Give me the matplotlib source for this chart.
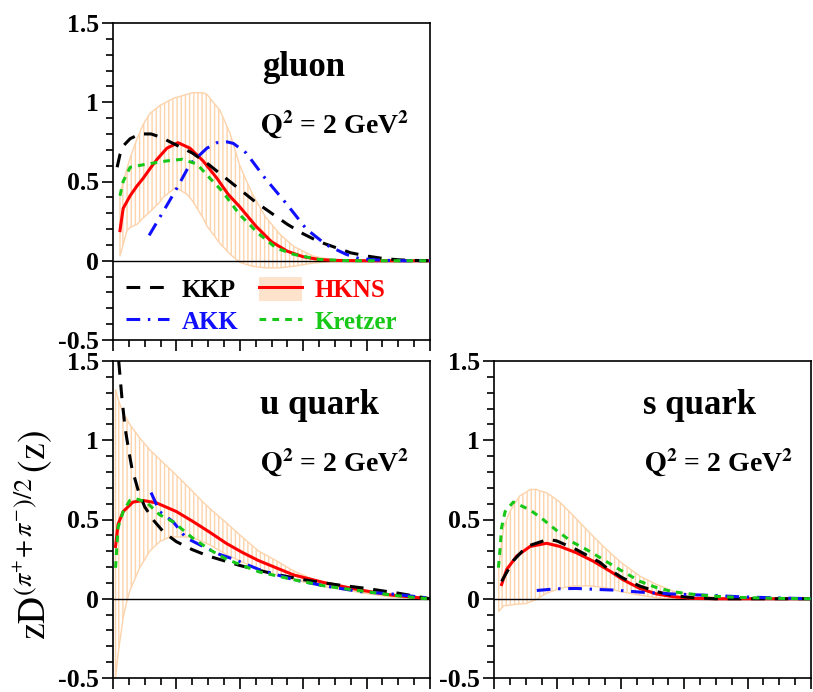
import matplotlib
matplotlib.use("Agg")
import matplotlib.pyplot as plt
from matplotlib.lines import Line2D
from matplotlib.patches import Patch
from matplotlib.ticker import MultipleLocator, NullFormatter, FuncFormatter

plt.rcParams['font.family'] = ['Liberation Serif', 'DejaVu Serif']
plt.rcParams['mathtext.fontset'] = 'stix'
plt.rcParams['hatch.linewidth'] = 1.0

# ---------------- gluon ----------------
g_kkp_z = [0.013, 0.022, 0.035, 0.054, 0.085, 0.12, 0.15, 0.18, 0.21, 0.25, 0.30, 0.35, 0.40, 0.45, 0.50, 0.55, 0.60, 0.65, 0.70, 0.75, 0.80, 0.85, 0.90, 0.95, 1.0]
g_kkp_v = [0.59, 0.67, 0.73, 0.77, 0.80, 0.80, 0.78, 0.75, 0.72, 0.68, 0.61, 0.53, 0.45, 0.37, 0.30, 0.23, 0.17, 0.12, 0.085, 0.05, 0.03, 0.015, 0.006, 0.002, 0.0]

g_hkns_z = [0.022, 0.032, 0.054, 0.075, 0.095, 0.12, 0.139, 0.17, 0.205, 0.243, 0.284, 0.328, 0.363, 0.40, 0.45, 0.50, 0.55, 0.60, 0.65, 0.70, 0.80, 0.90, 1.0]
g_hkns_v = [0.19, 0.33, 0.41, 0.47, 0.52, 0.59, 0.64, 0.71, 0.745, 0.71, 0.63, 0.52, 0.42, 0.34, 0.22, 0.12, 0.06, 0.025, 0.008, 0.002, 0.0, 0.0, 0.0]

g_akk_z = [0.114, 0.17, 0.205, 0.243, 0.296, 0.328, 0.36, 0.38, 0.42, 0.48, 0.547, 0.61, 0.673, 0.736, 0.778, 0.85, 0.92, 1.0]
g_akk_v = [0.16, 0.35, 0.47, 0.61, 0.71, 0.745, 0.75, 0.74, 0.68, 0.52, 0.36, 0.20, 0.10, 0.04, 0.013, 0.003, 0.0, 0.0]

g_kre_z = [0.022, 0.032, 0.054, 0.107, 0.17, 0.218, 0.265, 0.306, 0.344, 0.40, 0.46, 0.515, 0.57, 0.65, 0.75, 0.85, 1.0]
g_kre_v = [0.41, 0.50, 0.59, 0.61, 0.63, 0.64, 0.61, 0.52, 0.44, 0.29, 0.17, 0.08, 0.04, 0.008, 0.0, 0.0, 0.0]

g_band_z = [0.022, 0.044, 0.054, 0.076, 0.095, 0.117, 0.148, 0.158, 0.196, 0.20, 0.233, 0.25, 0.284, 0.296, 0.337, 0.37, 0.40, 0.44, 0.48, 0.525, 0.57, 0.63, 0.69, 0.75, 0.85, 1.0]
g_band_hi = [0.42, 0.58, 0.65, 0.77, 0.86, 0.93, 0.98, 0.99, 1.03, 1.03, 1.05, 1.06, 1.06, 1.05, 0.95, 0.80, 0.60, 0.42, 0.28, 0.17, 0.09, 0.03, 0.006, 0.0, 0.0, 0.0]
g_band_lo = [0.03, 0.19, 0.21, 0.23, 0.27, 0.31, 0.37, 0.40, 0.46, 0.46, 0.42, 0.38, 0.27, 0.22, 0.11, 0.04, -0.01, -0.035, -0.045, -0.045, -0.035, -0.015, -0.005, 0.0, 0.0, 0.0]

# ---------------- u quark ----------------
u_kkp_z = [0.018, 0.028, 0.038, 0.05, 0.06, 0.08, 0.10, 0.13, 0.16, 0.20, 0.25, 0.30, 0.35, 0.40, 0.50, 0.60, 0.70, 0.80, 0.90, 1.0]
u_kkp_v = [1.50, 1.27, 1.08, 0.93, 0.82, 0.68, 0.58, 0.49, 0.42, 0.36, 0.31, 0.27, 0.24, 0.21, 0.16, 0.12, 0.09, 0.065, 0.035, 0.0]

u_hkns_z = [0.008, 0.016, 0.032, 0.063, 0.095, 0.137, 0.20, 0.25, 0.305, 0.357, 0.41, 0.46, 0.515, 0.57, 0.67, 0.78, 0.88, 0.99]
u_hkns_v = [0.33, 0.47, 0.55, 0.61, 0.62, 0.605, 0.55, 0.49, 0.42, 0.35, 0.29, 0.24, 0.195, 0.15, 0.10, 0.055, 0.023, 0.002]

u_akk_z = [0.12, 0.147, 0.19, 0.23, 0.284, 0.336, 0.38, 0.46, 0.57, 0.67, 0.78, 0.88, 0.99]
u_akk_v = [0.67, 0.55, 0.485, 0.385, 0.33, 0.28, 0.25, 0.185, 0.12, 0.08, 0.045, 0.03, 0.006]

u_kre_z = [0.008, 0.016, 0.032, 0.053, 0.074, 0.105, 0.147, 0.19, 0.25, 0.305, 0.357, 0.46, 0.57, 0.67, 0.78, 0.88, 0.99]
u_kre_v = [0.195, 0.45, 0.55, 0.62, 0.63, 0.61, 0.53, 0.485, 0.385, 0.31, 0.25, 0.17, 0.12, 0.08, 0.05, 0.023, 0.0]

u_band_z = [0.008, 0.016, 0.032, 0.042, 0.053, 0.084, 0.116, 0.126, 0.147, 0.168, 0.179, 0.21, 0.23, 0.25, 0.284, 0.305, 0.357, 0.41, 0.46, 0.515, 0.57, 0.67, 0.78, 0.88, 0.99]
u_band_hi = [1.32, 1.26, 1.17, 1.14, 1.10, 1.015, 0.94, 0.92, 0.88, 0.84, 0.82, 0.76, 0.72, 0.68, 0.61, 0.57, 0.48, 0.385, 0.30, 0.24, 0.175, 0.09, 0.04, 0.01, 0.0]
u_band_lo = [-0.50, -0.35, -0.12, -0.03, 0.05, 0.195, 0.30, 0.32, 0.36, 0.38, 0.39, 0.39, 0.39, 0.385, 0.36, 0.34, 0.28, 0.23, 0.185, 0.15, 0.12, 0.075, 0.04, 0.017, 0.0]

# ---------------- s quark ----------------
s_kkp_z = [0.024, 0.061, 0.103, 0.171, 0.198, 0.26, 0.334, 0.355, 0.407, 0.46, 0.513, 0.565, 0.63, 0.70, 0.80, 1.0]
s_kkp_v = [0.11, 0.24, 0.33, 0.375, 0.365, 0.31, 0.23, 0.195, 0.13, 0.08, 0.045, 0.02, 0.006, 0.0, 0.0, 0.0]

s_hkns_z = [0.024, 0.04, 0.072, 0.114, 0.166, 0.208, 0.26, 0.313, 0.366, 0.407, 0.46, 0.513, 0.565, 0.63, 0.70, 0.80, 1.0]
s_hkns_v = [0.09, 0.185, 0.27, 0.33, 0.35, 0.33, 0.29, 0.237, 0.174, 0.12, 0.065, 0.03, 0.013, 0.002, 0.0, 0.0, 0.0]

s_akk_z = [0.135, 0.198, 0.26, 0.334, 0.387, 0.46, 0.513, 0.565, 0.63, 0.70, 0.78, 0.88, 1.0]
s_akk_v = [0.052, 0.063, 0.065, 0.058, 0.054, 0.042, 0.036, 0.03, 0.025, 0.02, 0.012, 0.006, 0.0]

s_kre_z = [0.014, 0.019, 0.024, 0.035, 0.061, 0.114, 0.155, 0.198, 0.245, 0.292, 0.334, 0.387, 0.46, 0.513, 0.565, 0.62, 0.67, 0.72, 0.78, 0.88, 1.0]
s_kre_v = [0.196, 0.31, 0.45, 0.55, 0.61, 0.56, 0.50, 0.43, 0.36, 0.31, 0.26, 0.195, 0.11, 0.07, 0.044, 0.03, 0.02, 0.013, 0.008, 0.003, 0.0]

s_band_z = [0.015, 0.03, 0.05, 0.07, 0.082, 0.10, 0.114, 0.134, 0.145, 0.165, 0.187, 0.207, 0.245, 0.30, 0.35, 0.40, 0.46, 0.513, 0.565, 0.63, 0.69, 0.78, 0.9, 1.0]
s_band_hi = [0.20, 0.45, 0.55, 0.615, 0.65, 0.67, 0.69, 0.69, 0.68, 0.67, 0.64, 0.61, 0.535, 0.42, 0.32, 0.23, 0.143, 0.09, 0.048, 0.023, 0.01, 0.003, 0.0, 0.0]
s_band_lo = [-0.08, -0.045, -0.04, -0.035, -0.033, -0.03, -0.02, -0.005, 0.01, 0.035, 0.05, 0.065, 0.08, 0.082, 0.07, 0.045, 0.023, 0.006, -0.004, 0.0, 0.0, 0.0, 0.0, 0.0]

panel_titles = ["gluon", "u quark", "s quark"]
scale_label = r"$\mathbf{Q^{2}}$ = 2 GeV$\mathbf{^{2}}$"
legend_names = ["KKP", "AKK", "HKNS", "Kretzer"]

C_KKP, C_HKNS, C_AKK, C_KRE = "black", "#ff0000", "#1010ff", "#18c818"
BAND = "#fdd3ab"
BAND_FILL = "#fde3cc"

fig = plt.figure(figsize=(8.13, 6.92), dpi=100)
W, H = 813.0, 692.0

def add_axes(l, t, r, b):
    return fig.add_axes([l / W, 1 - b / H, (r - l) / W, (b - t) / H])

ax_g = add_axes(113, 23, 430, 340)
ax_u = add_axes(113, 361, 430, 678)
ax_s = add_axes(494, 361, 811, 678)

LW = 2.2
dash_kkp = (4.5, 3.2)
dash_akk = (4.5, 2.5, 0.8, 2.5)
dash_kre = (2.2, 2.0)

def draw(ax, data, title, title_x, q_x):
    bz, blo, bhi, kz, kv, az, av, rz, rv, hz, hv = data
    ax.fill_between(bz, blo, bhi, facecolor="none", edgecolor=BAND,
                    hatch="||||", linewidth=1.0, zorder=1)
    ax.axhline(0, color="black", lw=1.0, zorder=2)
    ax.plot(kz, kv, color=C_KKP, lw=LW, dashes=dash_kkp, zorder=4)
    ax.plot(az, av, color=C_AKK, lw=LW, dashes=dash_akk, zorder=4)
    ax.plot(rz, rv, color=C_KRE, lw=LW, dashes=dash_kre, zorder=4)
    ax.plot(hz, hv, color=C_HKNS, lw=LW, zorder=3)
    ax.set_xlim(0, 1)
    ax.set_ylim(-0.5, 1.5)
    ax.xaxis.set_major_locator(MultipleLocator(0.2))
    ax.xaxis.set_minor_locator(MultipleLocator(0.05))
    ax.yaxis.set_major_locator(MultipleLocator(0.5))
    ax.yaxis.set_minor_locator(MultipleLocator(0.1))
    ax.xaxis.set_major_formatter(NullFormatter())
    ax.yaxis.set_major_formatter(FuncFormatter(lambda v, p: ("%g" % v)))
    ax.tick_params(which="both", direction="out", top=False, right=False, width=1.2)
    ax.tick_params(which="major", length=8)
    ax.tick_params(which="minor", length=5)
    ax.tick_params(axis="y", labelsize=18.5, pad=2)
    for sp in ax.spines.values():
        sp.set_linewidth(1.2)
    ax.text(title_x, 1.22, title, fontsize=25, fontweight="bold", ha="center", va="center")
    ax.text(q_x, 0.86, scale_label, fontsize=20, fontweight="bold", ha="center", va="center")

draw(ax_g, (g_band_z, g_band_lo, g_band_hi, g_kkp_z, g_kkp_v, g_akk_z, g_akk_v,
            g_kre_z, g_kre_v, g_hkns_z, g_hkns_v), panel_titles[0], 0.60, 0.70)
draw(ax_u, (u_band_z, u_band_lo, u_band_hi, u_kkp_z, u_kkp_v, u_akk_z, u_akk_v,
            u_kre_z, u_kre_v, u_hkns_z, u_hkns_v), panel_titles[1], 0.65, 0.70)
draw(ax_s, (s_band_z, s_band_lo, s_band_hi, s_kkp_z, s_kkp_v, s_akk_z, s_akk_v,
            s_kre_z, s_kre_v, s_hkns_z, s_hkns_v), panel_titles[2], 0.65, 0.71)

for ax in (ax_g, ax_u, ax_s):
    for lab in ax.get_yticklabels():
        lab.set_fontweight("bold")

h_kkp = Line2D([], [], color=C_KKP, lw=LW, dashes=dash_kkp)
h_akk = Line2D([], [], color=C_AKK, lw=LW, dashes=dash_akk)
h_kre = Line2D([], [], color=C_KRE, lw=LW, dashes=dash_kre)
h_hkns = (Patch(facecolor=BAND_FILL, edgecolor="none"), Line2D([], [], color=C_HKNS, lw=LW))
leg = ax_g.legend([h_kkp, h_akk, h_hkns, h_kre], legend_names, ncol=2,
                  loc="upper left", bbox_to_anchor=(0.04, 0.2), frameon=False,
                  borderpad=0, borderaxespad=0, handlelength=1.75, handleheight=1.1,
                  handletextpad=0.5, columnspacing=0.8, labelspacing=0.25,
                  prop={"family": "Liberation Serif", "weight": "bold", "size": 18},
                  labelcolor=[C_KKP, C_AKK, C_HKNS, C_KRE])

fig.text(33 / W, 1 - 535 / H, r"$\mathrm{zD}^{(\pi^{+}\!+\pi^{-})/2}\,(\mathrm{z})$",
         rotation=90, ha="center", va="center", fontsize=27)

fig.savefig("out.png", dpi=100)
